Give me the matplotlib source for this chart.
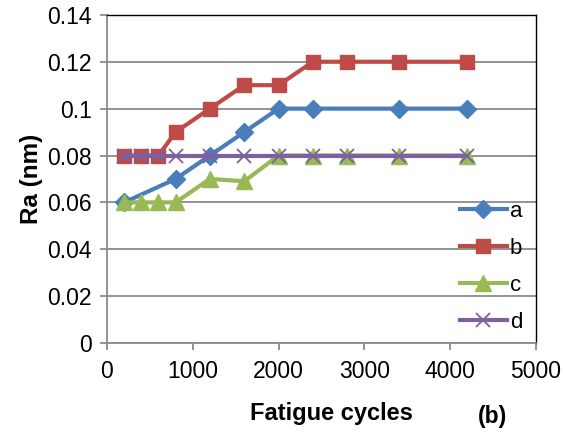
import matplotlib
matplotlib.use("Agg")
import matplotlib.pyplot as plt

# donnees
x_a = [200, 800, 1200, 1600, 2000, 2400, 3400, 4200]
y_a = [0.06, 0.07, 0.08, 0.09, 0.10, 0.10, 0.10, 0.10]

x_full = [200, 400, 600, 800, 1200, 1600, 2000, 2400, 2800, 3400, 4200]
y_b = [0.08, 0.08, 0.08, 0.09, 0.10, 0.11, 0.11, 0.12, 0.12, 0.12, 0.12]
y_c = [0.06, 0.06, 0.06, 0.06, 0.07, 0.069, 0.08, 0.08, 0.08, 0.08, 0.08]
y_d = [0.08, 0.08, 0.08, 0.08, 0.08, 0.08, 0.08, 0.08, 0.08, 0.08, 0.08]

x_ticks = [0, 1000, 2000, 3000, 4000, 5000]
y_ticks = [0, 0.02, 0.04, 0.06, 0.08, 0.1, 0.12, 0.14]
y_labels = ["0", "0.02", "0.04", "0.06", "0.08", "0.1", "0.12", "0.14"]

plt.rcParams["font.family"] = ["Liberation Sans", "DejaVu Sans"]

fig = plt.figure(figsize=(5.63, 4.37), dpi=100)
ax = fig.add_axes([0.190, 0.215, 0.762, 0.751])

ax.set_xlim(0, 5000)
ax.set_ylim(0, 0.14)
ax.set_yticks(y_ticks)
ax.set_yticklabels(y_labels)
ax.set_xticks(x_ticks)
ax.grid(axis="y", color="#8a8a8a", linewidth=1.3, zorder=0)
ax.set_axisbelow(True)

lw = 3.0
ax.plot(x_a, y_a, color="#4a7ebb", marker="D", markersize=9, linewidth=lw, label="a", zorder=3)
ax.plot(x_full, y_b, color="#be4b48", marker="s", markersize=10, linewidth=lw, label="b", zorder=2)
ax.plot(x_full, y_c, color="#98b954", marker="^", markersize=11, linewidth=lw, label="c", zorder=3)
ax.plot(x_full, y_d, color="#7d60a0", marker="x", markersize=10, markeredgewidth=1.3,
        linewidth=lw, label="d", zorder=4)

for s in ["left", "bottom"]:
    ax.spines[s].set_color("#8a8a8a")
    ax.spines[s].set_linewidth(1.3)
for s in ["top", "right"]:
    ax.spines[s].set_color("black")
    ax.spines[s].set_linewidth(1.0)

ax.tick_params(axis="both", colors="#8a8a8a", labelcolor="black", labelsize=16.5,
               length=5, width=1.3, direction="out")
ax.tick_params(axis="y", pad=6)
ax.tick_params(axis="x", pad=7)

ax.set_ylabel("Ra (nm)", fontsize=17.5, fontweight="bold")
ax.yaxis.set_label_coords(-0.15, 0.5)
fig.text(0.588, 0.053, "Fatigue cycles", fontsize=17, fontweight="bold", ha="center", va="center")
fig.text(0.874, 0.046, "(b)", fontsize=16.5, fontweight="bold", ha="center", va="center")

leg = ax.legend(loc="center left", bbox_to_anchor=(0.823, 0.232), frameon=False, fontsize=16,
                handlelength=2.1, labelspacing=0.72, handletextpad=0.15,
                borderpad=0, borderaxespad=0)

fig.savefig("out.png", dpi=100)
